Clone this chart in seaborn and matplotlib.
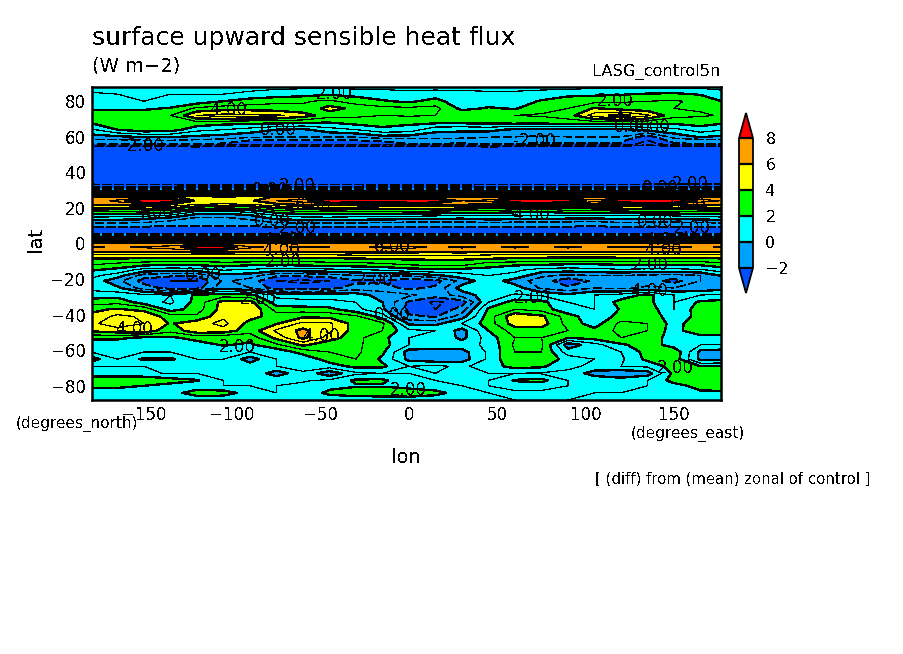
import numpy as np
import matplotlib
matplotlib.use("Agg")
import matplotlib.pyplot as plt
from matplotlib.colors import ListedColormap
from matplotlib.ticker import MultipleLocator
import seaborn as sns

lons = [-180,-165,-150,-135,-120,-105,-90,-75,-60,-45,-30,-15,0,15,30,45,60,75,90,105,120,135,150,165,180]

lats_north = [88,84,80,76,72,68,64,60,58,56,54,52,48,36,34,32,30,28,26]
flux_north = [
 [0.7,0.7,0.7,0.7,0.7,0.7,0.7,0.8,0.8,0.8,0.7,0.7,0.7,0.7,0.7,0.7,0.7,0.7,0.7,0.8,0.8,0.8,0.8,0.8,0.7],
 [1.1,1,1,1,1,1,1.2,1.4,1.6,1.9,1.7,1.5,1.3,1.4,1.3,1.2,1.2,1.4,1.6,1.8,1.9,2.1,2.2,1.9,1.3],
 [1.3,1.2,1.0,1.1,1.4,2.0,2.5,2.8,2.9,3.2,2.5,2.1,1.8,2.4,1.2,1.5,1.5,2.1,2.8,2.7,2.9,3,3.1,2.8,1.8],
 [1.7,1.8,1.8,2.1,3.2,3.5,3.5,3.4,3.2,4.4,3.7,3.3,3.2,3.3,1.7,2.1,1.9,2.7,3,4.1,3.5,3.3,3,2.9,2.0],
 [2.8,2.8,2.7,3,5,5.4,5.3,5.2,4.5,3.4,3.2,3,3.1,3,2.9,3,3,3.1,3.5,5.5,6.4,5.2,3.3,3.1,2.9],
 [2.1,2.6,2.6,2.6,2.7,2.4,2.3,2.3,2.1,2.0,2.4,2.5,2.2,2.2,2.2,2.3,2.4,2.4,2.5,2.5,2.5,2.4,2.3,2.5,2.1],
 [0.8,2.0,2.6,2.5,1.3,1,0.6,0,-0.2,0.6,1,1.7,1.6,0.3,0.2,0.3,-0.2,-0.4,-0.2,-0.3,-0.3,0.3,0.7,1.5,1],
 [-0.4,-0.2,0.1,0.1,-0.2,-0.4,-0.8,-0.9,-1,-1,-0.9,-0.3,-0.4,-0.5,-0.6,-0.9,-1,-1.1,-1,-1,-1,-2.5,-0.6,0.1,-0.3],
 [-1.2,-1.2,-1,-1,-1.2,-1.4,-2,-2,-2,-2,-2,-1.8,-1.5,-1.5,-1.6,-1.6,-1.6,-1.7,-1.7,-1.8,-1.8,-3,-1.6,-1.4,-1.2],
 [-2.0,-2,-2,-2,-1.9,-2.1,-2.8,-2.8,-2.8,-2.8,-2.8,-2.6,-2,-2,-2.1,-1.8,-2.0,-2.1,-2.1,-2.1,-2.1,-3.6,-2.1,-2,-2],
 [-4.6,-4.6,-4.6,-4.6,-4.5,-4.6,-4.8,-4.8,-4.8,-4.8,-4.8,-4.8,-4.6,-4.6,-4.6,-4.5,-4.6,-4.6,-4.6,-4.6,-4.6,-5,-4.6,-4.6,-4.6],
 [-6,-6,-6,-6,-6,-6,-6,-6,-6,-6,-6,-6,-6,-6,-6,-6,-6,-6,-6,-6,-6,-6,-6,-6,-6],
 [-6,-6,-6,-6,-6,-6,-6,-6,-6,-6,-6,-6,-6,-6,-6,-6,-6,-6,-6,-6,-6,-6,-6,-6,-6],
 [-6,-6,-6,-6,-6,-6,-6,-6,-6,-6,-6,-6,-6,-6,-6,-6,-6,-6,-6,-6,-6,-6,-6,-6,-6],
 [-4.5,-4.6,-4.7,-4.7,-4.8,-4.8,-4.8,-4.7,-4.7,-4.6,-4.7,-4.8,-4.8,-4.8,-4.7,-4.7,-4.6,-4.7,-4.7,-4.6,-4.6,-4.5,-4.5,-4.5,-4.5],
 [-3.0,-3.1,-3.2,-3.2,-3.3,-3.4,-3.4,-3.3,-3.2,-3.1,-3.2,-3.3,-3.4,-3.4,-3.3,-3.2,-3.1,-3.2,-3.2,-3.1,-3.1,-3.0,-3.0,-3.0,-3.0],
 [-0.8,-0.9,-1.0,-1.0,-1.1,-1.2,-1.2,-1.1,-1.0,-0.9,-1.0,-1.1,-1.2,-1.2,-1.1,-1.0,-0.9,-1.0,-1.0,-0.9,-0.9,-0.8,-0.8,-0.8,-0.8],
 [2.6,2.6,2.5,2.5,2.4,2.3,2.3,2.4,2.5,2.6,2.6,2.5,2.4,2.4,2.5,2.5,2.6,2.5,2.5,2.6,2.6,2.7,2.7,2.7,2.6],
 [6.3,6.3,6.4,6.3,5.4,5.2,5.4,6.2,6.4,6.5,6.4,6.3,6.4,6.4,6.2,6.2,6.5,6.5,6.4,6.2,6.4,6.5,6.6,6.4,6.3],
]

lats_tropics = [24,22,20,18,16,14,12,10,8,6,4,2,0,-2,-4,-6,-8,-10,-12,-15]
flux_tropics = [
 [6.5,7.2,10,9.8,5.5,5.5,5.8,7,7.5,10,9.5,9.4,10,9.8,7,7.3,10,10.2,9.4,7.3,9.6,10.4,10.2,7.5,6.8],
 [6.2,6.5,6.6,6,5,4.9,5.0,5.8,6.3,6.4,6.3,6.2,6.2,6.3,6.2,6,6,6.4,6.2,6,6.2,6.4,6.3,6.2,6.2],
 [4.7,4.6,4.4,4.2,3.3,3,3.2,4,4.5,4.7,4.6,4.5,4.5,4.4,4.3,4.1,3.8,3.6,4,4.2,4.3,4.5,4.6,4.6,4.7],
 [3.1,3,2.8,2.5,1,0.9,1.3,2.5,3,3.1,3,2.9,2.9,2.8,2.7,2.6,2.3,2.1,2.5,2.7,2.8,2.9,3,3.1,3.1],
 [1.7,1.6,1.4,1,-0.4,-0.5,0,1.2,1.6,1.7,1.6,1.5,1.4,1.3,1.2,1.1,1.0,1.1,1.2,1.3,1.2,1.2,1.3,1.5,1.7],
 [0.5,0.4,0.2,-0.5,-1.3,-1.3,-0.8,0.2,0.5,0.5,0.4,0.3,0.2,0.1,0,0.3,0.2,0.2,0,-0.1,0.2,0.1,0.1,0.3,0.5],
 [-0.8,-0.8,-0.9,-1.3,-1.7,-1.7,-1.4,-0.9,-0.8,-0.8,-0.8,-0.9,-1.0,-1.1,-1.1,-0.9,-1,-1,-1.1,-1.2,-0.9,-1,-1,-0.9,-0.8],
 [-1.7,-1.7,-1.8,-1.9,-1.9,-1.9,-1.9,-1.7,-1.7,-1.7,-1.7,-1.8,-1.8,-1.8,-1.8,-1.7,-1.8,-1.8,-1.8,-1.9,-1.7,-1.8,-1.8,-1.7,-1.7],
 [-2.6,-2.6,-2.6,-2.7,-2.7,-2.7,-2.7,-2.6,-2.6,-2.6,-2.6,-2.6,-2.6,-2.6,-2.6,-2.6,-2.6,-2.6,-2.6,-2.6,-2.6,-2.6,-2.6,-2.6,-2.6],
 [-2.5,-2.6,-2.6,-2.7,-2.7,-2.6,-2.6,-2.5,-2.5,-2.5,-2.6,-2.6,-2.6,-2.5,-2.5,-2.6,-2.6,-2.6,-2.5,-2.5,-2.6,-2.6,-2.6,-2.5,-2.5],
 [-0.7,-0.7,-0.8,-0.8,-0.8,-0.7,-0.7,-0.7,-0.6,-0.7,-0.8,-0.8,-0.7,-0.7,-0.7,-0.8,-0.8,-0.7,-0.7,-0.7,-0.8,-0.8,-0.8,-0.7,-0.7],
 [2.5,2.5,2.5,2.4,2.4,2.4,2.5,2.5,2.5,2.4,2.4,2.5,2.5,2.5,2.4,2.4,2.4,2.5,2.5,2.5,2.4,2.5,2.5,2.5,2.5],
 [6.2,6.2,6.3,6.4,6.5,6.5,6.3,6.2,6.3,6.4,6.5,6.4,6.3,6.2,6.3,6.4,6.3,6.2,6.2,6.3,6.4,6.2,6.3,6.2,6.2],
 [7.1,6.9,7.1,7.3,9,9,7.1,6.9,7.1,7.0,6.9,7.1,7.2,6.9,7.1,6.9,7.1,6.9,7.1,6.9,7.1,7.0,7.2,6.9,7.1],
 [6.6,6.6,6.6,6.7,6.8,6.8,6.7,6.6,6.6,6.7,6.7,6.7,6.7,6.6,6.7,6.6,6.7,6.6,6.7,6.6,6.6,6.7,6.7,6.6,6.6],
 [5.2,5.2,5.1,5.1,5.2,5.2,5.2,5.1,5.1,5.2,5.3,5.3,5.3,5.3,5.3,5.2,5.1,5.1,5.1,5.1,5.1,5.1,5.2,5.1,5.2],
 [4.2,4.2,4.1,4,4,4,4.1,4,4,4.1,4.2,4.3,4.4,4.4,4.4,4.3,4.1,4,3.9,3.9,4,4,4,4,4.2],
 [3.4,3.3,3.2,3.1,3.1,3.2,3.2,3.1,3.1,3.2,3.3,3.4,3.6,3.7,3.7,3.3,3.2,3.1,3,3,3.1,3.1,3.1,3.1,3.4],
 [3,2.7,2.2,2,2.1,2.4,2.1,2.0,2.2,2.4,2.5,2.7,3,3.2,3.2,2.3,2.1,2.0,1.8,1.8,2.0,2.1,2.1,2.1,2.6],
 [2.1,1.6,0.5,0.3,0.4,1,0.8,0.4,0.5,0.6,0.8,1,1.5,1.7,1.6,1.7,1.2,0.5,0.4,0.6,0.8,0.6,0.6,0.8,1.5],
]

lats_south = [-18,-21,-25,-29,-33,-37,-41,-45,-49,-53,-57,-61,-65,-69,-73,-77,-80,-84,-88]
flux_south = [
 [1.3,0.5,-1.5,-1.8,-1.8,-0.3,-0.5,-1.8,-1.8,-1.5,-1,-0.8,-0.8,-0.2,0.5,1,0.7,-0.8,-1.2,-1,-1,-1.2,-1.4,-1,0.4],
 [0.7,-0.7,-2.4,-3,-3,-0.8,-1.5,-3,-3.2,-3,-2.2,-2.2,-2.6,-2.4,-0.6,0.6,-0.5,-1.5,-2.7,-1.8,-1.2,-1.5,-2.4,-1,-0.5],
 [0.7,0.2,-1.5,-2.4,-2.4,-0.3,-1,-2.5,-2.6,-2.4,-1.5,-1.5,-2.3,-1.8,0.5,0.7,0.5,-1.2,-1.8,-1.0,-1.3,-0.8,-1,-0.8,-0.3],
 [1.5,1.6,1.2,1,2.2,2.5,2.3,0.8,0.7,0.7,0.5,-0.5,-0.8,-1.5,-0.6,0.6,1.1,0.9,0.3,1,1.4,2.3,1,1,1.2],
 [2.5,2.7,1.5,0.8,2.4,4.4,4.4,1.3,1.2,1.2,1,0,-2.2,-3.2,-2.5,1,2.5,2.3,1,1,2.4,2.3,1,2.2,2.4],
 [3.8,4.1,3.7,1.5,2.5,4.5,5,2.6,2.5,2.3,1.3,0.2,-2.5,-3,-1.5,2.2,3,2.6,1.2,1,2.1,2.6,1,2.6,2.5],
 [4.2,5.3,4.8,3.5,3.2,4.8,4.4,3.5,3.8,3.7,3.2,1.5,-1.8,-2.1,-0.5,2.5,4.8,4.2,2.5,1.2,2.4,2.8,1.3,2.4,2.5],
 [4.8,5.5,5,3.9,4.6,5.3,3.6,3.9,5.3,5.2,3.5,3.2,-0.2,-0.3,1,2.5,4.5,4.5,2.6,1.5,3.3,3,1.6,2.7,2.5],
 [4.2,4.6,4.7,3.3,4.7,4.6,3.4,5.2,6.3,5.2,3.5,3.0,1.2,1,-0.4,2,3.5,3.5,3,2.3,3.3,3,1.5,3,3],
 [2.2,2.2,1.8,1.8,2.4,2.2,2.4,4.3,6.3,4.5,3.3,2.3,1,1,-0.3,1.5,3,3,2,2.4,3,3,1.2,1.4,1.4],
 [1.3,1.4,1.5,1.3,1.5,2.1,1.8,2.8,4.2,3.3,3.2,2.4,1,1,0.6,1.2,3.2,3.2,-0.6,0.6,1.8,2.6,1.5,1,1],
 [1,1.2,1,1,1.2,1.3,1,1.3,2.4,3,3.2,2.2,-0.5,-0.8,-0.4,1.2,3,3,0.5,1,1,2.4,2.8,-0.3,-0.6],
 [-0.5,1,-0.2,-0.2,1,1,-0.5,1,1.3,2.5,3,1.8,-0.3,-0.7,-0.5,1.2,3,3,1.5,1,0.8,2.3,2.6,-0.3,-0.5],
 [1,1,1,1,1,0.8,0.5,1,1.5,1.5,2.3,2.2,1,1.2,0.8,1.5,2.4,2.2,1.2,0.8,1,1.2,2.5,2,2.2],
 [1.5,1.4,1.2,0.9,1,1,1,-0.6,0.8,-0.7,0.8,1,1,1,1,1,1,0.9,0.8,-0.5,-0.8,-0.5,2.3,2.6,2.6],
 [2.6,2.8,2.9,2.5,2.1,1,1,0.9,0.9,1.2,2.2,2.2,1.2,1,0.9,1,2.1,2.3,1,0.8,0.5,1,2.4,2.8,2.8],
 [2.2,2.3,2.0,1.6,1.2,1,1,1,1.2,1.6,1.9,1.9,1.5,1.2,1,1,1.4,1.4,1,0.8,0.7,1,1.6,2.4,2.5],
 [1.5,1.3,1.2,1.5,2.6,2.5,1.5,1,1.2,2.3,2.6,2.7,2.8,2.4,1.4,1,0.8,0.8,1,1,1,1.2,1.5,1.8,1.8],
 [1.2,1.2,1.1,1.1,1.2,1.2,1.2,1.1,1.1,1.2,1.3,1.3,1.3,1.2,1.2,1.1,1,1,1,1.1,1.1,1.1,1.2,1.2,1.2],
]

fill_levels = [-2,0,2,4,6,8]
thin_levels = [-4,-3,-1,1,3,5,7]
fill_colors = ["#00a0ff","#00ffff","#00ff00","#ffff00","#ffa000"]
under_color = "#0050ff"
over_color = "#ff0000"
bar_ticks = [-2,0,2,4,6,8]

contour_labels = [
 ("2.00",334,94),("4.00",229,110),("0.00",278,130),("-2.00",143,146),("-2.00",535,141),
 ("2.00",615,101),("0.00",632,127),("0.00",652,127),("0.00",270,190),("2.00",297,186),
 ("4.00",155,213),("6.00",313,205),("4.00",532,215),("0.00",660,188),("2.00",690,184),
 ("6.00",688,205),("0.00",272,221),("-2.00",295,228),("0.00",655,222),("2.00",692,228),
 ("4.00",282,240),("4.00",282,250),("2.00",283,262),("6.00",392,247),("4.00",664,240),
 ("4.00",664,250),("2.00",650,265),("0.00",203,275),("-2.00",372,280),("2.00",258,299),
 ("0.00",392,315),("4.00",650,291),("2.00",532,298),("4.00",135,329),("4.00",322,336),
 ("2.00",237,347),("2.00",408,390),("2.00",675,368),
]

lat_all = lats_north + lats_tropics + lats_south
flux = np.array(flux_north + flux_tropics + flux_south, dtype=float)

sns.set_theme(style="ticks")
BLACK = "#000000"
plt.rcParams.update({"font.family":"DejaVu Sans","text.antialiased":False,
                     "contour.negative_linestyle":(0,(6,2.5)),"lines.scale_dashes":False})
W,H = 904,654
fig = plt.figure(figsize=(W/100,H/100),dpi=100,facecolor="white")
def box(l,t,r,b):
    return [l/W,1-b/H,(r-l)/W,(b-t)/H]
ax = fig.add_axes(box(92,87,721,400))
cmap = ListedColormap(sns.color_palette(fill_colors)).with_extremes(under=under_color,over=over_color)
cf = ax.contourf(lons,lat_all,flux,levels=fill_levels,cmap=cmap,extend="both",antialiased=False)
ax.contour(lons,lat_all,flux,levels=thin_levels,colors=BLACK,linewidths=0.12,antialiased=False)
ax.contour(lons,lat_all,flux,levels=fill_levels,colors=BLACK,linewidths=0.95,antialiased=False)
ax.set_xlim(-179.4,176.6)
ax.set_ylim(-88,88)
ax.xaxis.set_major_locator(MultipleLocator(50))
ax.xaxis.set_minor_locator(MultipleLocator(10))
ax.yaxis.set_major_locator(MultipleLocator(20))
ax.yaxis.set_minor_locator(MultipleLocator(10))
ax.tick_params(which="major",direction="in",length=7,width=1.3,top=True,right=True,labelsize=12,color=BLACK,labelcolor=BLACK,pad=4.5)
ax.tick_params(which="minor",direction="in",length=3.5,width=0.8,top=True,right=True,color=BLACK)
for s in ax.spines.values():
    s.set_linewidth(1.8); s.set_color(BLACK)
for txt,px,py in contour_labels:
    ax.text(-179.4+(px-92)/1.767,(243.5-py)/1.78,txt,ha="center",va="center",fontsize=12,color=BLACK,clip_on=True)

cax = fig.add_axes(box(739,113,753,293))
cb = fig.colorbar(cf,cax=cax,ticks=bar_ticks,extendfrac=25/129,drawedges=True)
cb.dividers.set_color(BLACK); cb.dividers.set_linewidth(1.6)
cb.outline.set_linewidth(1.3); cb.outline.set_edgecolor(BLACK)
cb.ax.tick_params(length=0,labelsize=11.5,labelcolor=BLACK,pad=9)

def label(px,py,s,size,**kw):
    fig.text(px/W,1-py/H,s,fontsize=size,color=BLACK,**kw)
label(92,45,"surface upward sensible heat flux",18)
label(92,72,"(W m\u22122)",14)
label(721,76,"LASG_control5n",11.7,ha="right")
label(45,240,"lat",14,rotation=90,ha="right",va="center")
label(406,463,"lon",14,ha="center")
label(16,428,"(degrees_north)",11)
label(631,438,"(degrees_east)",11)
label(595,483,"[ (diff) from (mean) zonal of control ]",10.7)
fig.savefig("out.png",dpi=100,facecolor="white")
